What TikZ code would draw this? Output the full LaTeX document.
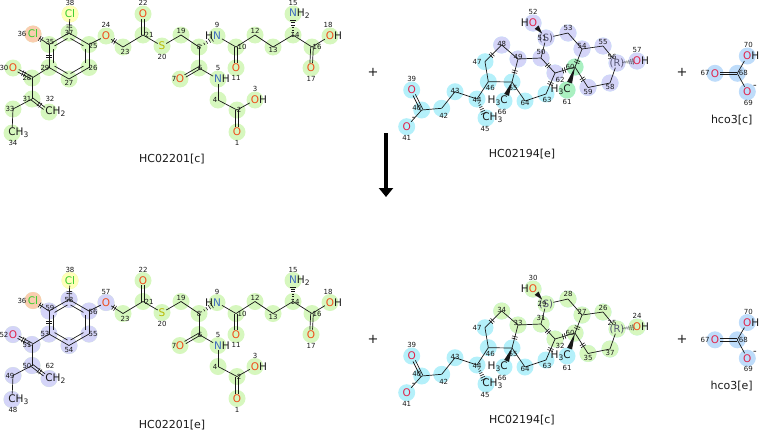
\documentclass[tikz,border=0pt]{standalone}
\usepackage{fontspec}
\setmainfont{DejaVu Sans}
\usetikzlibrary{calc,backgrounds,decorations.markings,arrows.meta}

\definecolor{bk}{RGB}{25,25,25}
\definecolor{oxA}{RGB}{240,75,25}
\definecolor{oxB}{RGB}{225,35,75}
\definecolor{nit}{RGB}{65,110,190}
\definecolor{chl}{RGB}{55,205,45}
\definecolor{sul}{RGB}{185,185,0}
\definecolor{cip}{RGB}{85,85,115}
\definecolor{hlgreen}{RGB}{214,247,190}
\definecolor{hlyellow}{RGB}{255,255,185}
\definecolor{hlorange}{RGB}{250,205,175}
\definecolor{hllav}{RGB}{212,212,248}
\definecolor{hlcyan}{RGB}{180,240,250}
\definecolor{hlmint}{RGB}{170,240,192}
\definecolor{hlblue}{RGB}{190,220,250}

\newcommand\lowsub[1]{\raisebox{-0.35ex}{\fontsize{7.5}{8}\selectfont #1}}

\tikzset{
  bond/.style={draw=bk,line width=0.7pt},
  atom/.style={inner sep=0.8pt,font=\fontsize{10.5}{12}\selectfont},
  cipatom/.style={inner sep=0pt,text=cip,font=\fontsize{10}{12}\selectfont},
  num/.style={inner sep=0pt,font=\fontsize{7}{8}\selectfont,text=bk},
  chg/.style={inner sep=0pt,font=\fontsize{10}{10}\selectfont,text=bk},
  molname/.style={inner sep=0pt,font=\fontsize{11}{12}\selectfont,text=bk},
  plussign/.style={inner sep=0pt,font=\fontsize{13}{13}\selectfont,text=bk},
  brk/.style={postaction={decorate,decoration={markings,
      mark=at position #1 with {\draw[bk,line width=0.6pt] (-1.1,-2.8) -- (-1.1,2.8) (1.1,-2.8) -- (1.1,2.8);}}}},
  brk/.default=0.5,
  rxn/.style={draw=black,line width=4.5pt,-{Triangle[width=14pt,length=9pt]}}
}

% double bond, #3 #4 = half offset
\newcommand\dbond[4]{%
  \draw[bond,transform canvas={shift={(#3,#4)}}] (#1) -- (#2);
  \draw[bond,transform canvas={shift={(-1*#3,-1*#4)}}] (#1) -- (#2);}
% solid wedge from #1 to #2, between fractions #3 and #4
\newcommand\solidwedge[4]{%
  \fill[bk] ($(#1)!#3!(#2)$) -- ($(#1)!#4!(#2)!2.6pt!90:(#2)$) -- ($(#1)!#4!(#2)!2.6pt!-90:(#2)$) -- cycle;}
% hashed wedge, #3 strokes between fractions #4 and #5
\newcommand\hashwedge[5]{%
  \foreach \i in {1,...,#3}{%
    \pgfmathsetmacro\hwf{#4+(#5-#4)*(\i-1)/(#3-1)}%
    \pgfmathsetmacro\hww{0.5+2.4*(\i-1)/(#3-1)}%
    \draw[bk,line width=0.6pt] ($(#1)!\hwf!(#2)!\hww pt!90:(#2)$) -- ($(#1)!\hwf!(#2)!\hww pt!-90:(#2)$);}}

% HC02201
\newcommand\mola[4]{%
\begin{scope}[shift={(0,#2)}]
  \node[atom,text=chl] (#138) at (70,14) {Cl};
  \coordinate (#137) at (69,33);
  \node[atom,text=chl] (#136) at (33,34) {Cl};
  \coordinate (#135) at (49,44.5);
  \coordinate (#125) at (89,44.5);
  \coordinate (#126) at (89,67.5);
  \coordinate (#127) at (69,79);
  \coordinate (#129) at (49,67.5);
  \coordinate (#128) at (32,78);
  \node[atom,text=#3] (#130) at (13,68) {O};
  \coordinate (#131) at (32,99);
  \node[atom,text=bk] (#132) at (49,112) {C\rlap{H\lowsub{2}}};
  \coordinate (#133) at (13,109);
  \node[atom,text=bk] (#134) at (12,133) {C\rlap{H\lowsub{3}}};
  \node[atom,text=oxA] (#124) at (106,36) {O};
  \coordinate (#123) at (123,47);
  \coordinate (#121) at (143,35);
  \node[atom,text=oxA] (#122) at (143,14) {O};
  \node[atom,text=sul] (#120) at (162,46) {S};
  \coordinate (#119) at (181,35);
  \coordinate (#18) at (199,47);
  \node[atom,text=nit] (#19) at (217,36) {\llap{\textcolor{bk}{H}}N};
  \coordinate (#110) at (236,47);
  \node[atom,text=oxA] (#111) at (236,68) {O};
  \coordinate (#112) at (255,35);
  \coordinate (#113) at (273,47);
  \coordinate (#114) at (293,35);
  \node[atom,text=nit] (#115) at (293,14) {N\rlap{\textcolor{bk}{H\lowsub{2}}}};
  \coordinate (#116) at (312,47);
  \node[atom,text=oxA] (#117) at (311,68) {O};
  \node[atom,text=oxA] (#118) at (330,36) {O\rlap{\textcolor{bk}{H}}};
  \coordinate (#16) at (199,68);
  \node[atom,text=oxA] (#17) at (180,79) {O};
  \node[atom,text=nit] (#15) at (218,79) {N\rlap{\textcolor{bk}{H}}};
  \coordinate (#14) at (218,100);
  \coordinate (#12) at (237,110);
  \node[atom,text=oxA] (#13) at (255,100) {O\rlap{\textcolor{bk}{H}}};
  \node[atom,text=oxA] (#11) at (237,132) {O};
  \coordinate (#1ring) at ($(#137)!0.5!(#127)$);
  % bonds
  \draw[bond,brk] (#137) -- (#138);
  \draw[bond] (#137) -- (#135);
  \draw[bond] (#137) -- (#125);
  \draw[bond] (#125) -- (#126);
  \draw[bond] (#126) -- (#127);
  \draw[bond] (#127) -- (#129);
  \draw[bond,brk] (#129) -- (#135);
  \draw[bond,brk=0.85] (#135) -- (#136);
  \foreach \u/\v in {37/25,25/26,26/27,27/29,29/35,35/37}
    \draw[bond,shorten <=1.8pt,shorten >=1.8pt] ($(#1ring)!0.8!(#1\u)$) -- ($(#1ring)!0.8!(#1\v)$);
  \draw[bond] (#129) -- (#128);
  \dbond{#128}{#130}{0.6}{-1.15}
  \path[brk=0.6] (#128) -- (#130);
  \draw[bond] (#128) -- (#131);
  \dbond{#131}{#132}{-0.79}{1.03}
  \path[brk=0.6] (#131) -- (#132);
  \draw[bond] (#131) -- (#133);
  \draw[bond] (#133) -- (#134);
  \draw[bond] (#125) -- (#124);
  \draw[bond,brk=0.25] (#124) -- (#123);
  \draw[bond] (#123) -- (#121);
  \dbond{#121}{#122}{1.3}{0}
  \draw[bond] (#121) -- (#120);
  \draw[bond] (#120) -- (#119);
  \draw[bond] (#119) -- (#18);
  \hashwedge{#18}{#19}{5}{0.15}{0.72}
  \draw[bond] (#19) -- (#110);
  \dbond{#110}{#111}{1.3}{0}
  \draw[bond] (#110) -- (#112);
  \draw[bond] (#112) -- (#113);
  \draw[bond] (#113) -- (#114);
  \hashwedge{#114}{#115}{6}{0.12}{0.7}
  \draw[bond] (#114) -- (#116);
  \dbond{#116}{#117}{1.3}{0}
  \draw[bond] (#116) -- (#118);
  \draw[bond] (#18) -- (#16);
  \dbond{#16}{#17}{0.65}{1.12}
  \draw[bond] (#16) -- (#15);
  \draw[bond] (#15) -- (#14);
  \draw[bond] (#14) -- (#12);
  \dbond{#12}{#11}{1.3}{0}
  \draw[bond] (#12) -- (#13);
  \node[molname] (#1nameA) at (172,159) {#4};
\end{scope}}

% HC02194
\newcommand\molb[4]{%
\begin{scope}[shift={(0,#2)}]
  \node[atom,text=oxB] (#139) at (411.7,90) {O};
  \coordinate (#140) at (421.7,110);
  \node[atom,text=oxB] (#141) at (406.7,126.7) {O};
  \coordinate (#142) at (441.7,108.3);
  \coordinate (#143) at (455,91.7);
  \coordinate (#144) at (477,99);
  \node[atom,text=bk] (#145) at (486,118) {C\rlap{H\lowsub{3}}};
  \coordinate (#146) at (488.3,81.7);
  \coordinate (#147) at (485,61.7);
  \coordinate (#148) at (501.7,45);
  \coordinate (#149) at (518,59);
  \coordinate (#150) at (541,58);
  \node[cipatom] (#151) at (546,38) {(S)};
  \node[atom,text=#3] (#152) at (533,23) {\llap{\textcolor{bk}{H}}O};
  \coordinate (#153) at (568,33);
  \coordinate (#154) at (582,49);
  \coordinate (#155) at (603,46);
  \node[cipatom] (#156) at (617,63) {(R)};
  \node[atom,text=#3] (#157) at (637,61) {O\rlap{\textcolor{bk}{H}}};
  \coordinate (#158) at (610,83);
  \coordinate (#159) at (588,87.5);
  \coordinate (#160) at (575,67);
  \node[atom,text=bk] (#161) at (567,90) {\llap{H\lowsub{3}}C};
  \coordinate (#162) at (555,73);
  \coordinate (#163) at (546,94);
  \coordinate (#164) at (525,101);
  \coordinate (#165) at (512,82);
  \node[atom,text=bk] (#166) at (504,101) {\llap{H\lowsub{3}}C};
  % bonds
  \dbond{#140}{#139}{1.16}{-0.58}
  \draw[bond] (#140) -- (#141);
  \draw[bond] (#140) -- (#142);
  \draw[bond] (#142) -- (#143);
  \draw[bond] (#143) -- (#144);
  \draw[bond] (#144) -- (#146);
  \hashwedge{#144}{#145}{7}{0.1}{0.75}
  \draw[bond] (#146) -- (#147);
  \draw[bond,brk=0.4] (#147) -- (#148);
  \draw[bond] (#148) -- (#149);
  \draw[bond,brk=0.55] (#149) -- (#165);
  \draw[bond] (#165) -- (#146);
  \solidwedge{#165}{#166}{0}{0.68}
  \draw[bond] (#165) -- (#164);
  \draw[bond] (#164) -- (#163);
  \draw[bond,brk] (#163) -- (#162);
  \draw[bond,brk] (#162) -- (#150);
  \draw[bond] (#150) -- (#149);
  \draw[bond] (#150) -- (#151);
  \solidwedge{#151}{#152}{0.3}{0.72}
  \draw[bond] (#151) -- (#153);
  \draw[bond] (#153) -- (#154);
  \draw[bond,brk=0.7] (#154) -- (#160);
  \draw[bond,brk=0.55] (#160) -- (#162);
  \draw[bond,brk=0.6] (#160) -- (#159);
  \solidwedge{#160}{#161}{0}{0.68}
  \draw[bond] (#154) -- (#155);
  \draw[bond] (#155) -- (#156);
  \hashwedge{#156}{#157}{6}{0.3}{0.8}
  \draw[bond] (#156) -- (#158);
  \draw[bond] (#158) -- (#159);
  \node[chg] at ($(#141)+(7,-8)$) {-};
  \node[molname] (#1nameB) at (522,154) {#4};
\end{scope}}

% hco3
\newcommand\molc[3]{%
\begin{scope}[shift={(0,#2)}]
  \node[atom,text=oxB] (#167) at (715,73.3) {O};
  \coordinate (#168) at (737.3,73.3);
  \node[atom,text=oxB] (#170) at (747.3,56) {O\rlap{\textcolor{bk}{H}}};
  \node[atom,text=oxB] (#169) at (747.3,91.7) {O};
  \dbond{#167}{#168}{0}{1.3}
  \draw[bond] (#168) -- (#170);
  \draw[bond] (#168) -- (#169);
  \node[chg] at ($(#169)+(7.5,-5)$) {-};
  \node[molname] (#1nameC) at (731.7,120) {#3};
\end{scope}}

\begin{document}
\begin{tikzpicture}[x=1pt,y=-1pt]
\useasboundingbox (0,0) rectangle (759,431);

\mola{t}{0}{oxA}{HC02201[c]}
\molb{t}{0}{oxB}{HC02194[e]}
\molc{t}{0}{hco3[c]}
\mola{b}{266.5}{oxB}{HC02201[e]}
\molb{b}{266}{oxA}{HC02194[c]}
\molc{b}{266.5}{hco3[e]}

\node[plussign] (plusA) at (373,72) {+};
\node[plussign] (plusB) at (682,72) {+};
\node[plussign] (plusC) at (373,339) {+};
\node[plussign] (plusD) at (682,339) {+};

\coordinate (arrA) at (386,133);
\coordinate (arrB) at (386,197);
\draw[rxn] (arrA) -- (arrB);

% atom numbers: key / number below / offset
\foreach \k/\n/\dx/\dy in {38/38/0/-11, 37/58/0/0, 36/36/-11/0, 35/59/1/-3, 25/56/4/1,
    26/55/4/0, 27/54/0/4, 29/53/-4/0, 28/51/-5/0, 30/52/-9/0, 31/50/-5/0, 32/62/1/-13,
    33/49/-3/0, 34/48/1/10, 24/57/0/-11, 23/23/2/5, 21/21/6/0, 22/22/0/-11, 20/20/0/11,
    19/19/0/-4, 8/8/0/0, 9/9/0/-11, 10/10/6/0, 11/11/0/10, 12/12/0/-4, 13/13/0/3,
    14/14/2/0, 15/15/0/-11, 16/16/5/0, 17/17/0/11, 18/18/-2/-11, 6/6/1/0, 7/7/-6/0,
    5/5/0/-11, 4/4/-3/0, 2/2/2/0, 3/3/0/-11, 1/1/0/11,
    52/30/0/-11, 51/29/-4/0, 53/28/0/-5, 54/27/0/-3, 55/26/0/-4, 56/25/-5/-6,
    57/24/0/-11, 58/37/0/4, 59/35/0/4, 60/60/-5/0, 61/61/0/12, 62/32/5/7, 50/31/0/-6,
    49/33/0/-2, 48/34/0/-1, 47/47/-8/0, 46/46/2/6, 65/65/1/6, 66/66/-2/11, 64/64/0/2,
    63/63/1/6, 44/44/0/1, 45/45/-1/11, 43/43/0/-1, 42/42/2/8, 40/40/-5/-2, 39/39/0/-11,
    41/41/0/11, 67/67/-10/0, 68/68/6/0, 70/70/1/-11, 69/69/1/11}{
  \node[num] at ($(t\k)+(\dx,\dy)$) {\k};
  \node[num] at ($(b\k)+(\dx,\dy)$) {\n};
}

% highlights
\begin{scope}[on background layer]
  \foreach \k in {1,...,38} \fill[hlgreen] (t\k) circle (8.5);
  \foreach \k in {1,...,38} \fill[hlgreen] (b\k) circle (8.5);
  \foreach \k in {24,25,26,27,28,29,30,31,32,33,34,35,37} \fill[hllav] (b\k) circle (8.5);
  \foreach \k/\col in {36/hlorange,38/hlyellow} {
    \fill[\col] (t\k) circle (8.5);
    \fill[\col] (b\k) circle (8.5);
  }
  \foreach \k in {39,...,66} \fill[hlcyan] (t\k) circle (8.5);
  \foreach \k in {39,...,66} \fill[hlcyan] (b\k) circle (8.5);
  \foreach \k in {48,...,59,62} \fill[hllav] (t\k) circle (8.5);
  \foreach \k in {60,61} \fill[hlmint] (t\k) circle (8.5);
  \foreach \k in {48,...,60,62} \fill[hlgreen] (b\k) circle (8.5);
  \foreach \k in {67,...,70} {
    \fill[hlblue] (t\k) circle (8.5);
    \fill[hlblue] (b\k) circle (8.5);
  }
\end{scope}
\end{tikzpicture}
\end{document}
